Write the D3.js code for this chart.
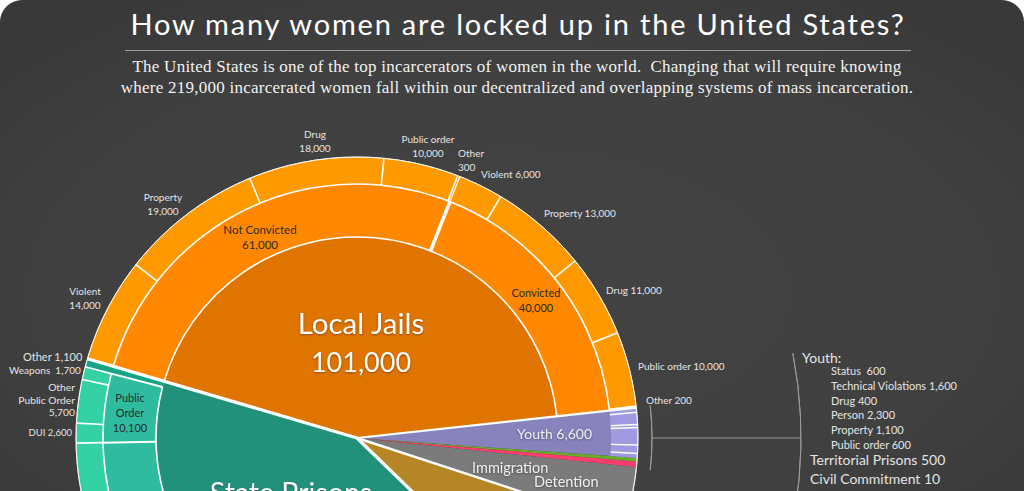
<!DOCTYPE html>
<html>
<head>
<meta charset="utf-8">
<script src="https://cdn.jsdelivr.net/npm/d3@7"></script>
<style>
  html, body { margin: 0; padding: 0; background: #fff; overflow: hidden; }
  svg { display: block; }
  text { font-family: Lato, "Open Sans", sans-serif; white-space: pre; }
  .shadow { filter: drop-shadow(0 1px 1px rgba(0,0,0,.35)); }
</style>
</head>
<body>
<svg id="chart" width="1024" height="491"></svg>
<script>
// top level wedges, clockwise starting from Local Jails
var systems = ["Local Jails", "Youth", "Territorial Prisons", "Indian Country", "Immigration Detention", "Federal Prisons", "State Prisons"];
var systemValues = [101000, 6600, 500, 700, 7800, 16700, 97700];
var systemColors = ["#e07400", "#8883bd", "#6aab2a", "#ff3d6e", "#7b7b7b", "#b58526", "#22917b"];

// jails
var jailStatus = ["Not Convicted", "Convicted"];
var jailStatusValues = [61000, 40000];
var notConvicted = ["Violent", "Property", "Drug", "Public order", "Other"];
var notConvictedValues = [14000, 19000, 18000, 10000, 300];
var convicted = ["Violent", "Property", "Drug", "Public order", "Other"];
var convictedValues = [6000, 13000, 11000, 10000, 200];

// youth, top to bottom
var youth = ["Status", "Technical Violations", "Drug", "Person", "Property", "Public order"];
var youthValues = [600, 1600, 400, 2300, 1100, 600];

// state prisons, clockwise (only the last ones are on the picture)
var stateOffenses = ["Violent", "Property", "Drug", "Public Order", "Other"];
var stateOffenseValues = [37500, 24000, 25000, 10100, 1100];
var statePublicOrder = ["DUI", "Other Public Order", "Weapons"];
var statePublicOrderValues = [2600, 5700, 1700];

var width = 1024, height = 491;
var cx = 357, cy = 438;
var r1 = 201, r2 = 254, R = 281;
var deg = Math.PI / 180;

var svg = d3.select("#chart");

// panel
var defs = svg.append("defs");
var grad = defs.append("radialGradient").attr("id", "panel")
  .attr("cx", "50%").attr("cy", "55%").attr("r", "65%");
grad.append("stop").attr("offset", "0%").attr("stop-color", "#434343");
grad.append("stop").attr("offset", "70%").attr("stop-color", "#404040");
grad.append("stop").attr("offset", "100%").attr("stop-color", "#393939");

svg.append("rect").attr("width", width).attr("height", height + 40).attr("rx", 22)
  .attr("fill", "url(#panel)");

var g = svg.append("g").attr("transform", "translate(" + cx + "," + cy + ")");

var arc = d3.arc();

function split(values, a0, a1) {
  return d3.pie().sort(null).value(function (d) { return d; })
    .startAngle(a0).endAngle(a1)(values);
}

var startAngle = -73.6 * deg;
var wedges = split(systemValues, startAngle, startAngle + 2 * Math.PI);
var jailW = wedges[0], youthW = wedges[1], stateW = wedges[6], immW = wedges[4], fedW = wedges[5];

function fillArc(a0, a1, inner, outer, color) {
  g.append("path")
    .attr("d", arc({ innerRadius: inner, outerRadius: outer, startAngle: a0, endAngle: a1 }))
    .attr("fill", color);
}

function spoke(a, inner, outer, w) {
  g.append("line")
    .attr("x1", inner * Math.sin(a)).attr("y1", -inner * Math.cos(a))
    .attr("x2", outer * Math.sin(a)).attr("y2", -outer * Math.cos(a))
    .attr("stroke", "#fff").attr("stroke-width", w);
}

function ring(a0, a1, r, w, color) {
  g.append("path")
    .attr("d", d3.arc()({ innerRadius: r, outerRadius: r, startAngle: a0, endAngle: a1 }))
    .attr("fill", "none").attr("stroke", color || "#fff").attr("stroke-width", w);
}

// whole wedges
wedges.forEach(function (w, i) {
  fillArc(w.startAngle, w.endAngle, 0, R, systemColors[i]);
});

// jail rings
var jailMid = split(jailStatusValues, jailW.startAngle, jailW.endAngle);
fillArc(jailW.startAngle, jailW.endAngle, r1, r2, "#ff8800");
fillArc(jailW.startAngle, jailW.endAngle, r2, R, "#ff9900");
var ncOuter = split(notConvictedValues, jailMid[0].startAngle, jailMid[0].endAngle);
var cOuter = split(convictedValues, jailMid[1].startAngle, jailMid[1].endAngle);
ncOuter.slice(0, -1).forEach(function (d) { spoke(d.endAngle, r2, R, 1.6); });
cOuter.slice(0, -1).forEach(function (d) { spoke(d.endAngle, r2, R, 1.6); });
spoke(jailMid[0].endAngle, r1, r2, 3.5);
spoke(jailMid[0].endAngle, r2, R, 1.2);

// youth ring
fillArc(youthW.startAngle, youthW.endAngle, r2, R, "#a09be0");
split(youthValues, youthW.startAngle, youthW.endAngle).slice(0, -1).forEach(function (d) {
  spoke(d.endAngle, r2, R, 1.4);
});

// state prison rings
fillArc(stateW.startAngle, stateW.endAngle, r1, r2, "#2ebba0");
fillArc(stateW.startAngle, stateW.endAngle, r2, R, "#33d1a3");
var stateMid = split(stateOffenseValues, stateW.startAngle, stateW.endAngle);
var otherW = stateMid[4], poW = stateMid[3];
fillArc(otherW.startAngle, otherW.endAngle, r1, R, "#15a586");
stateMid.slice(0, -1).forEach(function (d) { spoke(d.endAngle, r1, r2, 2); });
split(statePublicOrderValues, poW.startAngle, poW.endAngle).forEach(function (d) {
  spoke(d.endAngle, r2, R, 1.6);
});
spoke(poW.startAngle, r2, R, 1.6);

// ring lines
ring(jailW.startAngle, jailW.endAngle, r1, 1.6);
ring(jailW.startAngle, jailW.endAngle, r2, 1.6);
ring(stateW.startAngle, otherW.startAngle, r1, 1.6);
ring(stateW.startAngle, otherW.startAngle, r2, 1.6);

// wedge borders
spoke(jailW.startAngle, 0, R, 3.2);
spoke(jailW.endAngle, 0, R, 2.2);
spoke(immW.endAngle, 0, R, 2.4);
spoke(fedW.endAngle, 0, R, 3.2);
ring(0, 2 * Math.PI, R, 0.8);

// brackets
ring(youthW.startAngle - 0.1 * deg, immW.startAngle + 0.3 * deg, 295, 1, "#9a9a9a");
ring(79 * deg, 112 * deg, 444, 1, "#9a9a9a");
g.append("line").attr("x1", 295).attr("x2", 443).attr("y1", 0).attr("y2", 0)
  .attr("stroke", "#9a9a9a").attr("stroke-width", 1);

// texts
function label(lines, x, y, opts) {
  opts = opts || {};
  var t = svg.append("text")
    .attr("x", x).attr("y", y)
    .attr("text-anchor", opts.anchor || "start")
    .attr("font-size", opts.size || 10)
    .attr("fill", opts.fill || "#e4e4e4");
  if (opts.shadow) t.attr("class", "shadow");
  lines.forEach(function (line, i) {
    t.append("tspan").attr("x", x).attr("dy", i ? (opts.lead || 13.5) : 0).text(line);
  });
}

function money(v) { return d3.format(",")(v); }

// title block
svg.append("text").attr("x", 518).attr("y", 35).attr("text-anchor", "middle")
  .attr("font-size", 29).attr("fill", "#fff").attr("letter-spacing", 1.8)
  .text("How many women are locked up in the United States?");
svg.append("line").attr("x1", 125).attr("x2", 911).attr("y1", 50.5).attr("y2", 50.5)
  .attr("stroke", "#9c9c9c").attr("stroke-width", 1);
svg.append("text").attr("x", 517).attr("y", 72).attr("text-anchor", "middle")
  .attr("font-size", 17).attr("letter-spacing", 0.25).attr("fill", "#f2f2f2").style("font-family", "'Liberation Serif', serif")
  .text("The United States is one of the top incarcerators of women in the world.  Changing that will require knowing");
svg.append("text").attr("x", 517).attr("y", 93).attr("text-anchor", "middle")
  .attr("font-size", 17).attr("letter-spacing", 0.25).attr("fill", "#f2f2f2").style("font-family", "'Liberation Serif', serif")
  .text("where 219,000 incarcerated women fall within our decentralized and overlapping systems of mass incarceration.");

var mid = { anchor: "middle" };
// jails, outer ring
label([notConvicted[0], money(notConvictedValues[0])], 85, 295, mid);
label([notConvicted[1], money(notConvictedValues[1])], 163, 201, mid);
label([notConvicted[2], money(notConvictedValues[2])], 315, 138, mid);
label([notConvicted[3], money(notConvictedValues[3])], 428, 143, mid);
label([notConvicted[4], money(notConvictedValues[4])], 458, 157, {});
label([convicted[0] + " " + money(convictedValues[0])], 481, 178);
label([convicted[1] + " " + money(convictedValues[1])], 544, 217);
label([convicted[2] + " " + money(convictedValues[2])], 606, 294);
label([convicted[3] + " " + money(convictedValues[3])], 638, 370);
label([convicted[4] + " " + money(convictedValues[4])], 646, 404);

// jails, middle ring and core
var dark = "#2b2b2b";
label([jailStatus[0], money(jailStatusValues[0])], 260, 234, { anchor: "middle", size: 11.5, fill: dark, lead: 15 });
label([jailStatus[1], money(jailStatusValues[1])], 536, 297, { anchor: "middle", size: 11, fill: dark, lead: 15 });
label([systems[0]], 361, 334, { anchor: "middle", size: 29.5, fill: "#fff", shadow: true });
label([money(systemValues[0])], 361, 372, { anchor: "middle", size: 27, fill: "#fff", shadow: true });

// state prisons
label([stateOffenses[4] + " " + money(stateOffenseValues[4])], 23, 361, { size: 11 });
label([statePublicOrder[2] + "  " + money(statePublicOrderValues[2])], 9, 374, { size: 10 });
label(["Other", "Public Order", money(statePublicOrderValues[1])], 75, 391, { anchor: "end", size: 10.3, lead: 12.5 });
label([statePublicOrder[0] + " " + money(statePublicOrderValues[0])], 72, 436, { anchor: "end", size: 9.5 });
label(["Public", "Order", money(stateOffenseValues[3])], 130, 402, { anchor: "middle", size: 11, fill: dark, lead: 15 });
label([systems[6]], 291, 503, { anchor: "middle", size: 28.5, fill: "#fff", shadow: true });

// small systems
label([systems[1] + " " + money(systemValues[1])], 517, 439, { size: 14, fill: "#f0f0f0", shadow: true });
label(["Immigration"], 472, 473, { size: 14.5, fill: "#f0f0f0", shadow: true });
label(["Detention"], 534, 487, { size: 14.5, fill: "#f0f0f0", shadow: true });

// youth list
label(["Youth:"], 802, 363, { size: 14 });
youth.forEach(function (name, i) {
  var gap = name === "Status" ? "  " : " ";
  label([name + gap + money(youthValues[i])], 831, 375 + i * 14.8, { size: 11 });
});
label([systems[2] + " " + money(systemValues[2])], 810, 465, { size: 14 });
label(["Civil Commitment 10"], 810, 484, { size: 14 });
</script>
</body>
</html>
